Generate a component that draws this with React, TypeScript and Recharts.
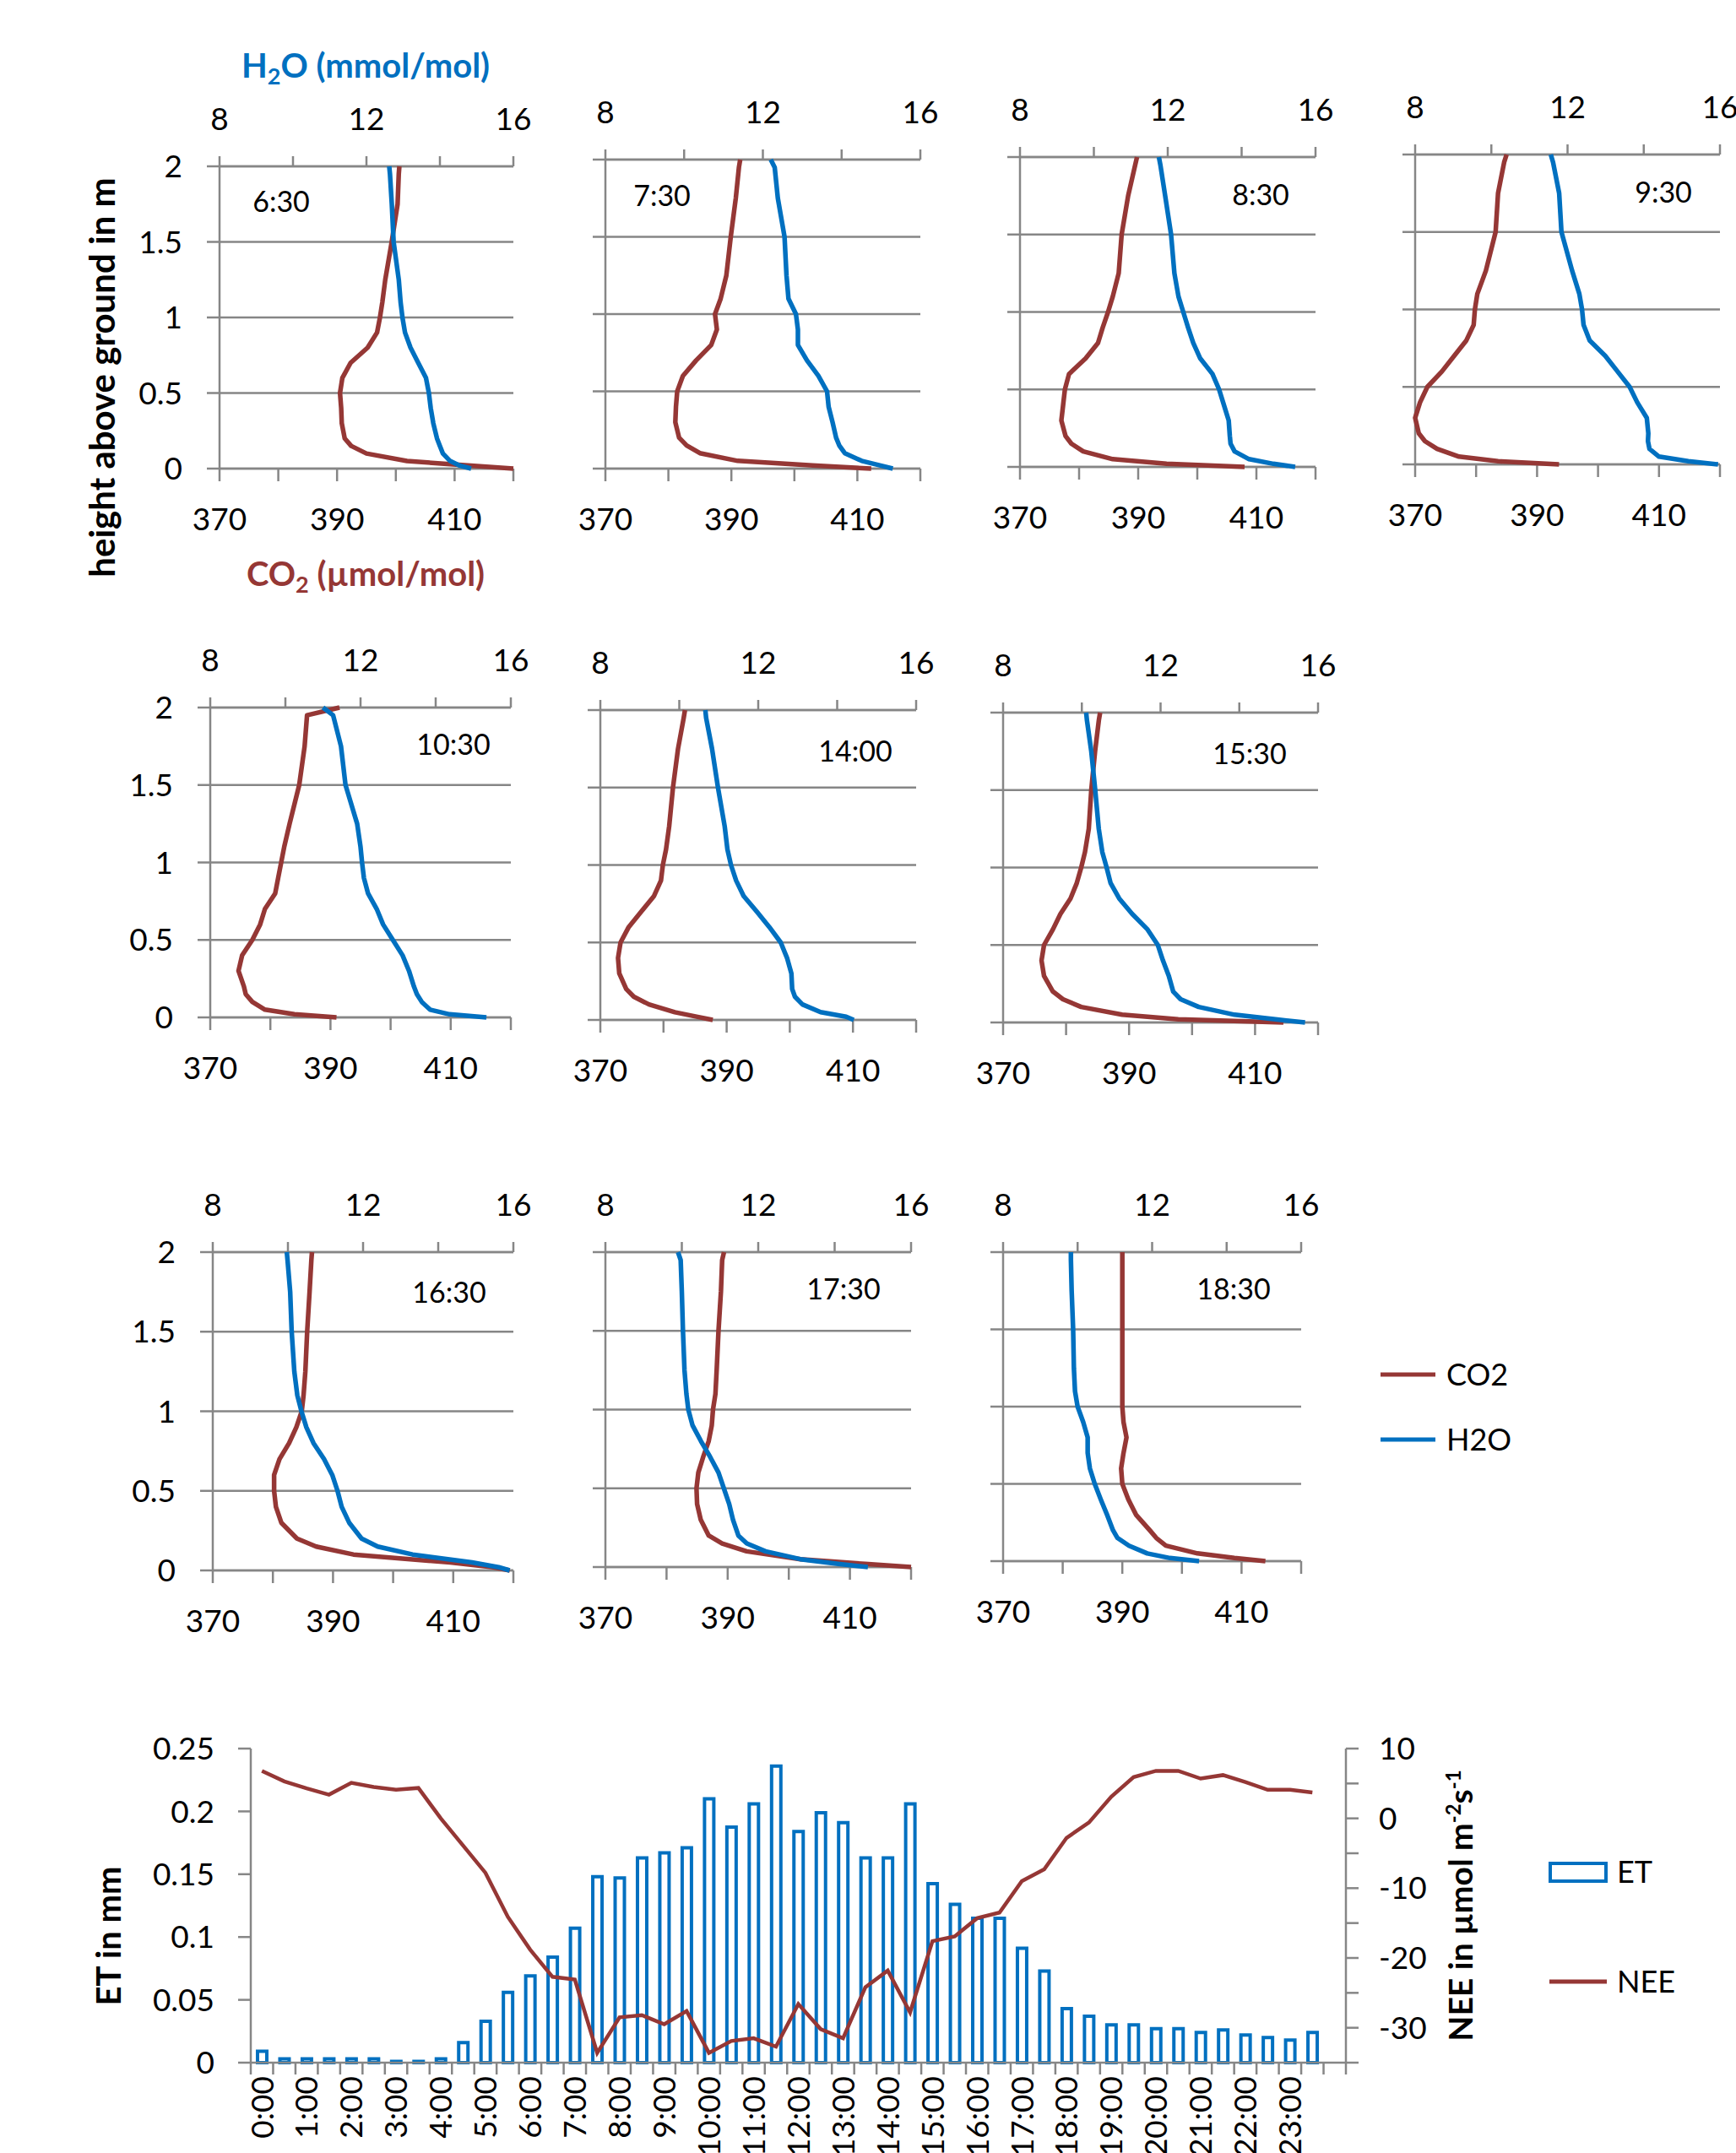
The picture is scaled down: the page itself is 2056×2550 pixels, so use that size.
import React from 'react';
import { ScatterChart, Scatter, XAxis, YAxis, CartesianGrid, ComposedChart, Bar, Line } from 'recharts';

// ---------------- profile data ----------------
const HEIGHTS = [0, 0.02, 0.05, 0.1, 0.15, 0.2, 0.3, 0.4, 0.5, 0.6, 0.7, 0.8, 0.9, 1.0, 1.1, 1.25, 1.5, 1.75, 1.95, 2.0];
const PANEL_TIMES = ['6:30', '7:30', '8:30', '9:30', '10:30', '14:00', '15:30', '16:30', '17:30', '18:30'];

const CO2_0630 = [420, 412.8, 401.9, 395.0, 392.4, 391.3, 390.8, 390.7, 390.5, 390.9, 392.3, 395.2, 396.8, 397.3, 397.7, 398.2, 399.3, 400.3, 400.5, 400.6];
const H2O_0630 = [14.85, 14.54, 14.28, 14.08, 14.0, 13.92, 13.82, 13.75, 13.7, 13.62, 13.41, 13.2, 13.05, 12.98, 12.93, 12.88, 12.74, 12.69, 12.64, 12.62];
const CO2_0730 = [412.2, 402.9, 391.0, 385.0, 382.9, 381.7, 381.1, 381.2, 381.4, 382.3, 384.4, 386.8, 387.7, 387.4, 388.3, 389.2, 389.9, 390.7, 391.2, 391.4];
const H2O_0730 = [15.3, 14.99, 14.51, 14.08, 13.94, 13.86, 13.77, 13.67, 13.63, 13.41, 13.12, 12.89, 12.89, 12.84, 12.65, 12.6, 12.55, 12.38, 12.3, 12.2];
const CO2_0830 = [408.0, 394.8, 385.7, 380.7, 378.7, 377.7, 377.0, 377.3, 377.6, 378.3, 381.1, 383.2, 384.0, 384.9, 385.7, 386.7, 387.2, 388.3, 389.5, 389.8];
const H2O_0830 = [15.45, 14.86, 14.2, 13.81, 13.7, 13.68, 13.65, 13.52, 13.39, 13.21, 12.88, 12.69, 12.55, 12.42, 12.29, 12.18, 12.09, 11.93, 11.8, 11.76];
const CO2_0930 = [393.6, 383.6, 377.2, 373.6, 371.6, 370.6, 370.0, 370.8, 372.0, 374.4, 376.4, 378.4, 379.6, 379.8, 380.2, 381.6, 383.2, 383.6, 384.6, 385.0];
const H2O_0930 = [15.95, 15.17, 14.4, 14.15, 14.11, 14.12, 14.08, 13.83, 13.63, 13.31, 12.99, 12.58, 12.42, 12.38, 12.31, 12.12, 11.84, 11.78, 11.62, 11.56];
const CO2_1030 = [391.0, 384.0, 379.1, 377.0, 375.9, 375.6, 374.7, 375.3, 377.0, 378.3, 379.1, 380.8, 381.3, 381.8, 382.3, 383.2, 384.8, 385.7, 386.1, 391.5];
const H2O_1030 = [15.35, 14.37, 13.85, 13.63, 13.5, 13.42, 13.29, 13.12, 12.86, 12.6, 12.43, 12.2, 12.09, 12.04, 12.0, 11.91, 11.6, 11.48, 11.27, 11.0];
const CO2_1400 = [387.8, 385.4, 381.8, 377.7, 375.3, 374.1, 373.0, 372.8, 373.2, 374.5, 376.5, 378.5, 379.6, 379.9, 380.4, 380.9, 381.5, 382.3, 383.2, 383.4];
const H2O_1400 = [14.42, 14.23, 13.58, 13.12, 12.93, 12.86, 12.84, 12.73, 12.57, 12.28, 11.96, 11.63, 11.44, 11.31, 11.22, 11.15, 10.98, 10.83, 10.68, 10.66];
const CO2_1530 = [414.5, 397.8, 388.9, 382.4, 379.5, 377.9, 376.5, 376.1, 376.5, 377.9, 379.1, 380.7, 381.7, 382.4, 383.0, 383.6, 384.0, 384.6, 385.2, 385.4];
const H2O_1530 = [15.67, 14.92, 13.88, 12.97, 12.51, 12.32, 12.21, 12.06, 11.93, 11.67, 11.28, 10.95, 10.73, 10.63, 10.52, 10.43, 10.34, 10.24, 10.13, 10.11];
const CO2_1630 = [419.4, 416.7, 409.5, 393.4, 387.2, 384.0, 381.4, 380.5, 380.2, 380.2, 381.1, 382.7, 383.9, 384.8, 385.1, 385.4, 385.7, 386.1, 386.4, 386.5];
const H2O_1630 = [15.9, 15.61, 14.9, 13.32, 12.39, 11.96, 11.63, 11.43, 11.32, 11.18, 10.96, 10.68, 10.49, 10.36, 10.25, 10.17, 10.1, 10.06, 9.99, 9.97];
const CO2_1730 = [420.0, 412.5, 401.9, 393.1, 389.1, 386.9, 385.6, 385.0, 384.9, 385.2, 386.0, 386.9, 387.4, 387.6, 388.0, 388.2, 388.5, 388.9, 389.1, 389.4];
const H2O_1730 = [14.87, 14.09, 13.1, 12.19, 11.7, 11.48, 11.34, 11.24, 11.1, 10.96, 10.74, 10.5, 10.28, 10.17, 10.12, 10.07, 10.03, 10.0, 9.97, 9.9];
const CO2_1830 = [414.0, 408.8, 402.6, 397.3, 395.7, 394.6, 392.3, 391.0, 390.0, 389.8, 390.2, 390.7, 390.2, 390.0, 390.0, 390.0, 390.0, 390.0, 390.0, 390.0];
const H2O_1830 = [13.26, 12.48, 11.87, 11.38, 11.07, 10.95, 10.79, 10.62, 10.46, 10.33, 10.27, 10.27, 10.15, 10.0, 9.93, 9.9, 9.88, 9.84, 9.82, 9.82];

const CO2_PROFILES = [CO2_0630, CO2_0730, CO2_0830, CO2_0930, CO2_1030, CO2_1400, CO2_1530, CO2_1630, CO2_1730, CO2_1830];
const H2O_PROFILES = [H2O_0630, H2O_0730, H2O_0830, H2O_0930, H2O_1030, H2O_1400, H2O_1530, H2O_1630, H2O_1730, H2O_1830];

const CO2_TICKS = [370, 380, 390, 400, 410, 420];
const CO2_LABELS = [370, 390, 410];
const H2O_TICKS = [8, 10, 12, 14, 16];
const H2O_LABELS = [8, 12, 16];
const HEIGHT_TICKS = [0, 0.5, 1, 1.5, 2];

// ---------------- daily course data ----------------
const TIMES = ['0:00', '0:30', '1:00', '1:30', '2:00', '2:30', '3:00', '3:30', '4:00', '4:30', '5:00', '5:30', '6:00', '6:30', '7:00', '7:30', '8:00', '8:30', '9:00', '9:30', '10:00', '10:30', '11:00', '11:30', '12:00', '12:30', '13:00', '13:30', '14:00', '14:30', '15:00', '15:30', '16:00', '16:30', '17:00', '17:30', '18:00', '18:30', '19:00', '19:30', '20:00', '20:30', '21:00', '21:30', '22:00', '22:30', '23:00', '23:30', ''];
const ET = [0.009, 0.003, 0.003, 0.003, 0.003, 0.003, 0.001, 0.001, 0.003, 0.016, 0.033, 0.056, 0.069, 0.084, 0.107, 0.148, 0.147, 0.163, 0.167, 0.171, 0.210, 0.1875, 0.206, 0.236, 0.184, 0.199, 0.191, 0.163, 0.163, 0.206, 0.1425, 0.126, 0.115, 0.115, 0.091, 0.073, 0.043, 0.037, 0.030, 0.030, 0.027, 0.027, 0.024, 0.026, 0.022, 0.020, 0.018, 0.024, null];
const NEE = [6.8, 5.3, 4.3, 3.4, 5.1, 4.5, 4.1, 4.35, 0.0, -3.9, -7.8, -14.1, -18.8, -22.7, -23.1, -33.6, -28.5, -28.2, -29.5, -27.6, -33.6, -31.9, -31.5, -32.7, -26.6, -30.2, -31.5, -24.2, -21.8, -27.8, -17.6, -16.9, -14.3, -13.5, -9.0, -7.3, -2.8, -0.6, 3.1, 5.9, 6.8, 6.8, 5.7, 6.2, 5.2, 4.1, 4.1, 3.7, null];
const ET_TICKS = [0, 0.05, 0.1, 0.15, 0.2, 0.25];
const NEE_TICKS = [-35, -30, -25, -20, -15, -10, -5, 0, 5, 10];
const NEE_LABELS = [-30, -20, -10, 0, 10];

// ---------------- layout & style ----------------
const CO2_COLOR = '#953735';
const H2O_COLOR = '#0070C0';
const GRID = '#868686';
const FONT = 'Lato, "Open Sans", sans-serif';

const PANEL_BOXES = [
  { x: 260, y: 197, w: 348, h: 358, yLabels: true, lx: 333, ly: 239 },
  { x: 717, y: 189, w: 373, h: 366, yLabels: false, lx: 784, ly: 232 },
  { x: 1208, y: 186, w: 350, h: 367, yLabels: false, lx: 1493, ly: 231 },
  { x: 1676, y: 183, w: 361, h: 367, yLabels: false, lx: 1970, ly: 228 },
  { x: 249, y: 838, w: 356, h: 367, yLabels: true, lx: 537, ly: 882 },
  { x: 711, y: 841, w: 374, h: 367, yLabels: false, lx: 1013, ly: 890 },
  { x: 1188, y: 844, w: 373, h: 367, yLabels: false, lx: 1480, ly: 893 },
  { x: 252, y: 1483, w: 356, h: 377, yLabels: true, lx: 532, ly: 1531 },
  { x: 717, y: 1483, w: 362, h: 373, yLabels: false, lx: 999, ly: 1527 },
  { x: 1188, y: 1483, w: 353, h: 366, yLabels: false, lx: 1461, ly: 1527 },
];

const YW = 100, TOPH = 90, BOTH = 90, RM = 30;
const tickStyle = { fill: '#000', fontSize: 37, fontFamily: FONT };
const axisStroke = { stroke: GRID, strokeWidth: 2.5 };
const LINE_W = 5.5;

const NoDot = () => <g />;

function ProfilePanel({ idx }: { idx: number }) {
  const box = PANEL_BOXES[idx];
  const co2 = HEIGHTS.map((h, i) => ({ x: CO2_PROFILES[idx][i], y: h }));
  const h2o = HEIGHTS.map((h, i) => ({ x: H2O_PROFILES[idx][i], y: h }));
  const W = YW + box.w + RM;
  const H = TOPH + box.h + BOTH;
  return (
    <div style={{ position: 'absolute', left: box.x - YW, top: box.y - TOPH, width: W, height: H }}>
      <ScatterChart width={W} height={H} margin={{ top: 0, right: RM, bottom: 0, left: 0 }}>
        <CartesianGrid vertical={false} stroke={GRID} strokeWidth={2.5} xAxisId="co2" />
        <XAxis xAxisId="h2o" orientation="top" type="number" dataKey="x" domain={[8, 16]} ticks={H2O_TICKS}
          interval={0} height={TOPH} tickSize={12} tickMargin={31} axisLine={axisStroke} tickLine={axisStroke}
          tick={tickStyle} tickFormatter={(v: number) => (H2O_LABELS.includes(v) ? String(v) : '')} />
        <XAxis xAxisId="co2" orientation="bottom" type="number" dataKey="x" domain={[370, 420]} ticks={CO2_TICKS}
          interval={0} height={BOTH} tickSize={15} tickMargin={32} axisLine={axisStroke} tickLine={axisStroke}
          tick={tickStyle} tickFormatter={(v: number) => (CO2_LABELS.includes(v) ? String(v) : '')} />
        <YAxis type="number" dataKey="y" domain={[0, 2]} ticks={HEIGHT_TICKS} interval={0} width={YW}
          tickSize={15} tickMargin={29} axisLine={axisStroke} tickLine={axisStroke} tick={tickStyle}
          tickFormatter={(v: number) => (box.yLabels ? String(v) : '')} />
        <Scatter xAxisId="co2" data={co2} fill={CO2_COLOR} stroke={CO2_COLOR} strokeWidth={LINE_W}
          line={{ stroke: CO2_COLOR, strokeWidth: LINE_W, strokeLinejoin: 'round' }} lineType="joint" shape={NoDot} isAnimationActive={false} legendType="none" />
        <Scatter xAxisId="h2o" data={h2o} fill={H2O_COLOR} stroke={H2O_COLOR} strokeWidth={LINE_W}
          line={{ stroke: H2O_COLOR, strokeWidth: LINE_W, strokeLinejoin: 'round' }} lineType="joint" shape={NoDot} isAnimationActive={false} legendType="none" />
      </ScatterChart>
    </div>
  );
}

// bottom chart layout
const BC_LEFT = 147, BC_TOP = 2031, BC_AXW = 150, BC_PLOT_W = 1297, BC_PLOT_H = 372, BC_MTOP = 40, BC_XH = 107;
const BC_W = BC_AXW * 2 + BC_PLOT_W;
const BC_H = BC_MTOP + BC_PLOT_H + BC_XH;
const BAND = BC_PLOT_W / TIMES.length;

function TimeTick(props: any) {
  const { x, y, payload } = props;
  const i = payload && payload.index != null ? payload.index : props.index;
  const half = BAND / 2;
  const ty = y + 16;
  return (
    <g>
      <line x1={x - half} x2={x - half} y1={y} y2={y + 14} stroke={GRID} strokeWidth={2.5} />
      {i === TIMES.length - 1 ? <line x1={x + half} x2={x + half} y1={y} y2={y + 14} stroke={GRID} strokeWidth={2.5} /> : null}
      {i % 2 === 0 && payload.value ? (
        <text x={x} y={ty} transform={`rotate(-90 ${x} ${ty})`} textAnchor="end" dy="0.36em" fill="#000" fontSize={37} fontFamily={FONT}>
          {payload.value}
        </text>
      ) : null}
    </g>
  );
}

function DailyChart() {
  const data = TIMES.map((t, i) => ({ time: t, et: ET[i], nee: NEE[i] }));
  return (
    <div style={{ position: 'absolute', left: BC_LEFT, top: BC_TOP, width: BC_W, height: BC_H }}>
      <ComposedChart width={BC_W} height={BC_H} data={data} margin={{ top: BC_MTOP, right: 0, bottom: 0, left: 0 }}>
        <XAxis dataKey="time" type="category" interval={0} height={BC_XH} tickSize={0} tickMargin={0}
          axisLine={axisStroke} tickLine={false} tick={<TimeTick />} />
        <YAxis yAxisId="left" orientation="left" type="number" domain={[0, 0.25]} ticks={ET_TICKS} interval={0}
          width={BC_AXW} tickSize={15} tickMargin={28} axisLine={axisStroke} tickLine={axisStroke} tick={tickStyle}
          tickFormatter={(v: number) => String(v)} />
        <YAxis yAxisId="right" orientation="right" type="number" domain={[-35, 10]} ticks={NEE_TICKS} interval={0}
          width={BC_AXW} tickSize={15} tickMargin={24} axisLine={axisStroke} tickLine={axisStroke} tick={tickStyle}
          tickFormatter={(v: number) => (NEE_LABELS.includes(v) ? String(v) : '')} />
        <Bar yAxisId="left" dataKey="et" fill="#ffffff" stroke={H2O_COLOR} strokeWidth={4} barSize={11} isAnimationActive={false} />
        <Line yAxisId="right" dataKey="nee" type="linear" stroke={CO2_COLOR} strokeWidth={4.5} dot={false} activeDot={false} isAnimationActive={false} />
      </ComposedChart>
    </div>
  );
}

function Annotations() {
  return (
    <svg width={2056} height={2550} style={{ position: 'absolute', left: 0, top: 0, pointerEvents: 'none' }}>
      <g fontFamily={FONT}>
        <text x={433} y={92} textAnchor="middle" fontWeight="bold" fontSize={40} fill={H2O_COLOR}>
          H<tspan fontSize={27} dy={8}>2</tspan><tspan dy={-8}>O (mmol/mol)</tspan>
        </text>
        <text x={433} y={694} textAnchor="middle" fontWeight="bold" fontSize={40} fill={CO2_COLOR}>
          CO<tspan fontSize={27} dy={8}>2</tspan><tspan dy={-8}> (µmol/mol)</tspan>
        </text>
        <text transform="translate(136 447) rotate(-90)" textAnchor="middle" fontWeight="bold" fontSize={42} fill="#000">
          height above ground in m
        </text>
        {PANEL_BOXES.map((b, i) => (
          <text key={i} x={b.lx} y={b.ly + 12} textAnchor="middle" fontSize={34} fill="#000">{PANEL_TIMES[i]}</text>
        ))}
        {/* profile legend */}
        <line x1={1635} x2={1700} y1={1628} y2={1628} stroke={CO2_COLOR} strokeWidth={5} />
        <text x={1713} y={1641} fontSize={36} fill="#000">CO2</text>
        <line x1={1635} x2={1700} y1={1705} y2={1705} stroke={H2O_COLOR} strokeWidth={5} />
        <text x={1713} y={1718} fontSize={36} fill="#000">H2O</text>
        {/* bottom chart titles */}
        <text transform="translate(143 2293) rotate(-90)" textAnchor="middle" fontWeight="bold" fontSize={40} fill="#000">
          ET in mm
        </text>
        <text transform="translate(1744 2257) rotate(-90)" textAnchor="middle" fontWeight="bold" fontSize={39} fill="#000">
          NEE in µmol m<tspan fontSize={24} dy={-14}>-2</tspan><tspan dy={14}>s</tspan><tspan fontSize={24} dy={-14}>-1</tspan>
        </text>
        {/* bottom legend */}
        <rect x={1836} y={2207} width={66} height={21} fill="#fff" stroke={H2O_COLOR} strokeWidth={4} />
        <text x={1915} y={2230} fontSize={36} fill="#000">ET</text>
        <line x1={1835} x2={1903} y1={2347} y2={2347} stroke={CO2_COLOR} strokeWidth={5} />
        <text x={1915} y={2360} fontSize={36} fill="#000">NEE</text>
      </g>
    </svg>
  );
}

export default function App() {
  return (
    <div style={{ position: 'absolute', left: 0, top: 0, width: 2056, height: 2550, overflow: 'hidden', background: '#fff', fontFamily: FONT }}>
      {PANEL_BOXES.map((_, i) => (
        <ProfilePanel key={i} idx={i} />
      ))}
      <DailyChart />
      <Annotations />
    </div>
  );
}
